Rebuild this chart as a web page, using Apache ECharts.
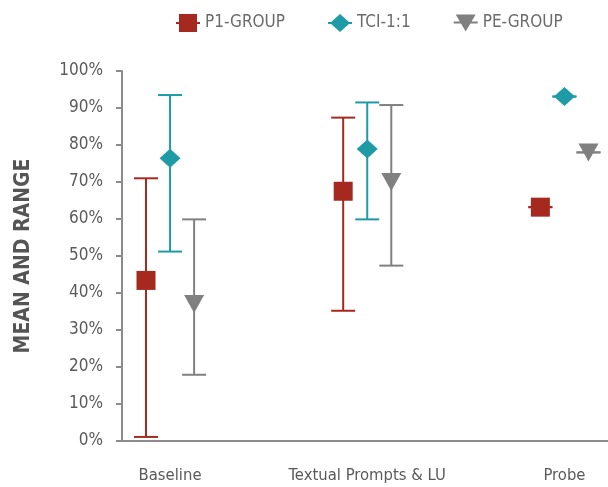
<!DOCTYPE html>
<html>
<head>
<meta charset="utf-8">
<script src="https://cdn.jsdelivr.net/npm/echarts@6/dist/echarts.min.js"></script>
<style>
  html, body { margin: 0; padding: 0; background: #fff; }
  #chart { width: 608px; height: 487px; }
</style>
</head>
<body>
<div id="chart"></div>
<script>
const categories = ['Baseline', 'Textual Prompts & LU', 'Probe'];
const seriesNames = ['P1-GROUP', 'TCI-1:1', 'PE-GROUP'];

const p1Mean = [43.4, 67.5, 63.2];
const p1Low  = [1.1, 35.2, 63.2];
const p1High = [71.0, 87.4, 63.2];

const tciMean = [76.4, 78.9, 93.1];
const tciLow  = [51.2, 59.9, 93.1];
const tciHigh = [93.5, 91.5, 93.1];

const peMean = [37.0, 70.0, 78.0];
const peLow  = [17.9, 47.4, 78.0];
const peHigh = [59.9, 90.8, 78.0];

const yTicks = [0, 10, 20, 30, 40, 50, 60, 70, 80, 90, 100];

const FONT = "'Liberation Sans Narrow', 'DejaVu Sans Condensed', 'Roboto', sans-serif";
const colors = ['#A6291F', '#1F9BA5', '#808080'];
const offsets = [-0.122, 0, 0.122];
const symbols = ['rect', 'diamond', 'triangle'];
const symbolSizes = [[19, 19], [21, 19], [20, 18]];
const rotates = [0, 0, 180];
const legendIcons = [
  'path://M0,8L24,8L24,10L0,10Z M3,0L21,0L21,18L3,18Z',
  'path://M0,8L24,8L24,10L0,10Z M12,0L22,9L12,18L2,9Z',
  'path://M0,8L24,8L24,10L0,10Z M2,1L22,1L12,18Z'
];

const means = [p1Mean, tciMean, peMean];
const lows = [p1Low, tciLow, peLow];
const highs = [p1High, tciHigh, peHigh];

const series = [];
seriesNames.forEach(function (name, s) {
  series.push({
    name: name,
    type: 'custom',
    z: 2,
    itemStyle: { color: colors[s] },
    encode: { x: 0, y: [1, 2] },
    data: categories.map(function (c, i) { return [i + 1 + offsets[s], lows[s][i], highs[s][i]]; }),
    renderItem: function (params, api) {
      const x = api.value(0);
      const pLo = api.coord([x, api.value(1)]);
      const pHi = api.coord([x, api.value(2)]);
      const hw = 12;
      const st = { stroke: colors[s], lineWidth: 2 };
      return {
        type: 'group',
        children: [
          { type: 'line', shape: { x1: pLo[0], y1: pLo[1], x2: pHi[0], y2: pHi[1] }, style: st },
          { type: 'line', shape: { x1: pLo[0] - hw, y1: pLo[1], x2: pLo[0] + hw, y2: pLo[1] }, style: st },
          { type: 'line', shape: { x1: pHi[0] - hw, y1: pHi[1], x2: pHi[0] + hw, y2: pHi[1] }, style: st }
        ]
      };
    }
  });
});
seriesNames.forEach(function (name, s) {
  series.push({
    name: name,
    type: 'scatter',
    z: 3,
    symbol: symbols[s],
    symbolSize: symbolSizes[s],
    symbolRotate: rotates[s],
    itemStyle: { color: colors[s], opacity: 1 },
    data: categories.map(function (c, i) { return [i + 1 + offsets[s], means[s][i]]; })
  });
});

const chart = echarts.init(document.getElementById('chart'), null, { renderer: 'canvas' });
chart.setOption({
  animation: false,
  backgroundColor: '#ffffff',
  textStyle: { fontFamily: FONT },
  legend: {
    top: 9,
    left: 171,
    itemWidth: 24,
    itemHeight: 18,
    itemGap: 43,
    textStyle: { fontFamily: FONT, fontSize: 17, color: '#6b6b6b' },
    data: seriesNames.map(function (n, i) { return { name: n, icon: legendIcons[i] }; })
  },
  grid: { left: 122, top: 71, right: 0, bottom: 46, containLabel: false },
  xAxis: {
    type: 'value',
    min: 0.7563,
    max: 3.221,
    splitLine: { show: false },
    axisTick: { show: false },
    axisLine: { show: true, lineStyle: { color: '#8c8c8c', width: 2 } },
    axisLabel: {
      customValues: [1, 2, 3],
      formatter: function (v) { return categories[Math.round(v) - 1] || ''; },
      fontFamily: FONT, fontSize: 16.5, color: '#5a5a5a', margin: 26
    }
  },
  yAxis: {
    type: 'value',
    min: 0,
    max: 100,
    interval: 10,
    name: 'MEAN AND RANGE',
    nameLocation: 'middle',
    nameGap: 88,
    nameTextStyle: { fontFamily: FONT, fontSize: 21, fontWeight: 'bold', color: '#555555' },
    splitLine: { show: false },
    axisLine: { show: true, lineStyle: { color: '#8c8c8c', width: 2 } },
    axisTick: { show: true, inside: false, length: 6, lineStyle: { color: '#8c8c8c', width: 2 } },
    axisLabel: {
      customValues: yTicks,
      formatter: '{value}%',
      fontFamily: FONT, fontSize: 17, color: '#5a5a5a', margin: 19
    }
  },
  series: series
});
</script>
</body>
</html>
